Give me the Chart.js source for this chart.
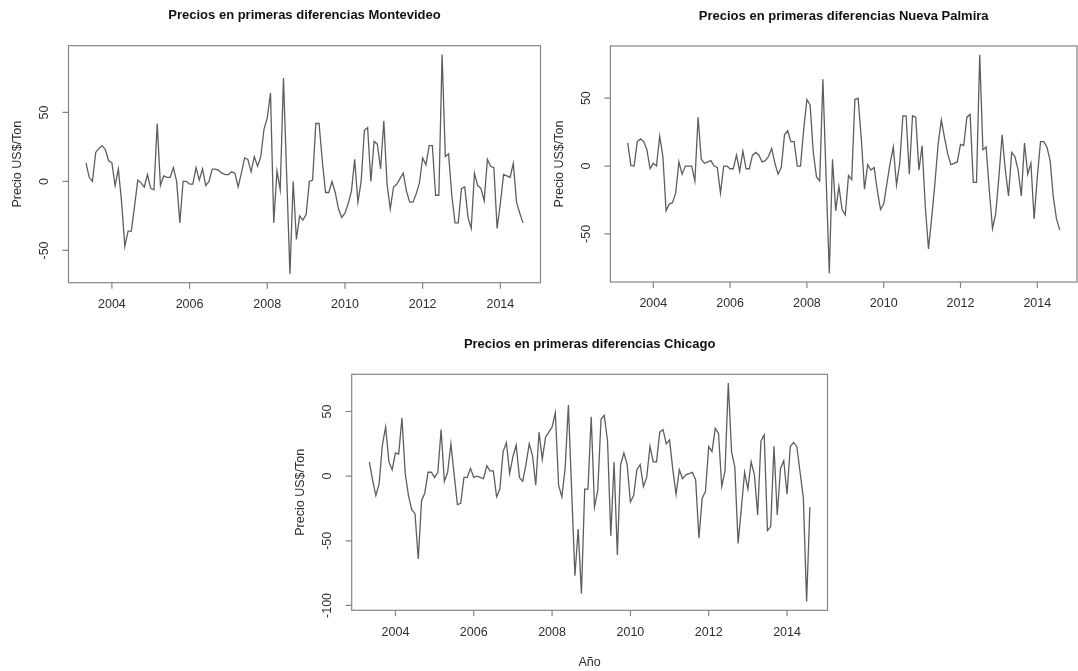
<!DOCTYPE html>
<html lang="es">
<head>
<meta charset="utf-8">
<title>Precios en primeras diferencias</title>
<script src="https://cdn.jsdelivr.net/npm/chart.js@4.4.1/dist/chart.umd.min.js"></script>
<style>
  html, body { margin: 0; padding: 0; background: #ffffff; }
  #sheet { position: relative; width: 1078px; height: 671px; overflow: hidden; background: #ffffff; }
  #sheet canvas { position: absolute; }
</style>
</head>
<body>
<div id="sheet">
  <canvas id="c-mvd"></canvas>
  <canvas id="c-np"></canvas>
  <canvas id="c-chi"></canvas>
</div>
<script>
// Monthly series, first observation May 2003, last August 2014
const startYear = 2003;
const startMonth = 5;

// Price first differences, US$/Ton
const montevideo = [
  13.5, 3, 0, 21, 24, 26, 23, 15, 13.5, -3,
  9, -15, -47, -36, -36, -18, 1, -1, -4, 5,
  -5, -6, 42, -3, 4, 3, 3, 10, 0, -30,
  0, 0, -2, -2, 10, 1, 9, -3, 0, 9,
  9, 8, 6, 5, 5, 7, 6, -4, 6, 17,
  16, 7, 18, 11, 18, 38, 46, 64, -30, 7.5,
  -6, 75, 4, -67, 0, -42, -25, -28, -24, 0,
  1, 42, 42, 15, -8, -8, 0, -8, -20, -26,
  -23, -16, -7, 16, -15, 0, 37, 39, 0, 29,
  27, 9, 44, -2, -20, -4, -2, 2, 6, -7,
  -15, -15, -9, -1, 17, 12, 26, 26, -10, -10,
  92, 18, 20, -10, -30, -30, -5, -4, -26, -34,
  6, -3, -5, -14, 16, 11, 10, -34, -16, 5,
  4, 3, 13, -15, -23, -30
];

const nuevaPalmira = [
  17, 0.5, 0, 18, 20, 18, 12, -2, 2, 0,
  22, 7, -33, -28, -27, -20, 3, -6, 0, 0,
  0, -11, 36, 5, 2, 3, 4, 0, -1, -20,
  0, 0, -2, -2, 8, -4, 11, -2, -2, 8,
  10, 8, 3, 4, 7, 13, 2, -6, -1, 23,
  26, 18, 18, 0, 0, 27, 49, 45, 10, -8,
  -11, 64, -8, -79, 5, -33, -15, -32, -36, -7,
  -10, 49, 50, 20, -17, 1, -3, -1, -18, -32,
  -28, -13, 2, 14, -14, 2, 37, 37, -6, 37,
  36, -3, 15, -30, -61, -38, -13, 16, 34, 21,
  9, 1, 2, 3, 16, 15, 36, 38, -12, -12,
  82, 12, 14, -18, -46, -35, -8, 23, -3, -22,
  10, 7, -3, -22, 17, -6, 2, -39, -8, 18,
  18, 14, 4, -23, -39, -47
];

const chicago = [
  11, -3, -15, -6, 24, 38, 11, 5, 18, 17,
  45, 2, -15, -26, -29, -64, -19, -13, 3, 3,
  -1, 3, 36, -4, 3, 25, 1, -22, -21, -1,
  -1, 6, -1, 0, -1, -2, 8, 4, 4, -16,
  -10, 19, 26, 2, 15, 24, -1, -4, 9, 25,
  16, -7, 34, 13, 30, 34, 38, 49, -7, -16,
  6, 55, -11, -77, -41, -91, -10, -10, 46, -24,
  -11, 44, 47, 27, -46, 11, -61, 9, 18, 9,
  -20, -15, 5, 9, -8, -1, 23, 11, 11, 34,
  36, 25, 28, 5, -14, 5, -2, 1, 2, 3,
  -3, -48, -17, -12, 23, 19, 37, 33, -8, 4,
  72, 19, 7, -52, -25, 3, -10, 11, 1, -30,
  27, 32, -42, -39, 23, -30, 6, 12, -14, 23,
  26, 23, 3, -17, -97, -24
];

// Axis tick labels
const yearTicks = [2004, 2006, 2008, 2010, 2012, 2014];
const portTicks = [-50, 0, 50];
const chicagoTicks = [-100, -50, 0, 50];

// Text
const titles = [
  'Precios en primeras diferencias Montevideo',
  'Precios en primeras diferencias Nueva Palmira',
  'Precios en primeras diferencias Chicago'
];
const yTitle = 'Precio US$/Ton';
const xTitle = 'Año';

// Time of each observation in decimal years (ts-style)
function timeOf(i) {
  return startYear + (startMonth - 1 + i) / 12;
}
function toPoints(values) {
  return values.map((v, i) => ({ x: timeOf(i), y: v }));
}
// Axis limits extended 4% past the data range on both ends
function paddedRange(lo, hi) {
  const d = (hi - lo) * 0.04;
  return { min: lo - d, max: hi + d };
}

const FONT = '"Liberation Sans", Arial, Helvetica, sans-serif';

// Draws the box, outward ticks, rotated y labels and titles around the plot region
const framePlugin = {
  id: 'rFrame',
  afterDraw(chart, args, opts) {
    const ctx = chart.ctx;
    const a = chart.chartArea;
    const xs = chart.scales.x;
    const ys = chart.scales.y;
    ctx.save();
    ctx.strokeStyle = '#858585';
    ctx.lineWidth = 1.2;
    ctx.strokeRect(a.left, a.top, a.right - a.left, a.bottom - a.top);

    ctx.fillStyle = '#2e2e2e';
    ctx.font = '12.5px ' + FONT;
    ctx.textAlign = 'center';
    ctx.textBaseline = 'middle';

    // x axis
    ctx.beginPath();
    opts.xTicks.forEach(v => {
      const px = xs.getPixelForValue(v);
      ctx.moveTo(px, a.bottom);
      ctx.lineTo(px, a.bottom + 6);
    });
    ctx.stroke();
    opts.xTicks.forEach(v => {
      ctx.fillText(String(v), xs.getPixelForValue(v), a.bottom + 22);
    });

    // y axis
    ctx.beginPath();
    opts.yTicks.forEach(v => {
      const py = ys.getPixelForValue(v);
      ctx.moveTo(a.left - 6, py);
      ctx.lineTo(a.left, py);
    });
    ctx.stroke();
    opts.yTicks.forEach(v => {
      ctx.save();
      ctx.translate(a.left - 24, ys.getPixelForValue(v));
      ctx.rotate(-Math.PI / 2);
      ctx.fillText(String(v), 0, 0);
      ctx.restore();
    });

    // axis titles
    ctx.save();
    ctx.translate(a.left - 51, (a.top + a.bottom) / 2);
    ctx.rotate(-Math.PI / 2);
    ctx.fillText(opts.yTitle, 0, 0);
    ctx.restore();
    if (opts.xTitle) {
      ctx.fillText(opts.xTitle, (a.left + a.right) / 2, a.bottom + 52);
    }

    // main title
    ctx.fillStyle = '#111111';
    ctx.font = 'bold 13px ' + FONT;
    ctx.fillText(opts.title, (a.left + a.right) / 2, a.top - 30);
    ctx.restore();
  }
};

// Canvas placement and plot-region box for each panel (page pixels)
const panels = [
  { id: 'c-mvd', values: montevideo, yTicks: portTicks, title: titles[0], xTitle: null,
    canvas: { left: 0, top: 0, width: 560, height: 330 },
    box: { left: 68.5, top: 45.7, right: 540.5, bottom: 282.7 } },
  { id: 'c-np', values: nuevaPalmira, yTicks: portTicks, title: titles[1], xTitle: null,
    canvas: { left: 545, top: 0, width: 533, height: 330 },
    box: { left: 610.4, top: 46, right: 1077, bottom: 282 } },
  { id: 'c-chi', values: chicago, yTicks: chicagoTicks, title: titles[2], xTitle: xTitle,
    canvas: { left: 270, top: 320, width: 590, height: 351 },
    box: { left: 351.7, top: 374.3, right: 827.5, bottom: 610.3 } }
];

panels.forEach(p => {
  const el = document.getElementById(p.id);
  el.width = p.canvas.width;
  el.height = p.canvas.height;
  el.style.left = p.canvas.left + 'px';
  el.style.top = p.canvas.top + 'px';

  const pts = toPoints(p.values);
  const xr = paddedRange(pts[0].x, pts[pts.length - 1].x);
  const yr = paddedRange(Math.min(...p.values), Math.max(...p.values));

  new Chart(el, {
    type: 'line',
    data: {
      datasets: [{
        data: pts,
        borderColor: '#5e5e5e',
        borderWidth: 1.3,
        pointRadius: 0,
        tension: 0,
        fill: false
      }]
    },
    options: {
      responsive: false,
      animation: false,
      devicePixelRatio: 1,
      parsing: false,
      layout: {
        padding: {
          left: p.box.left - p.canvas.left,
          top: p.box.top - p.canvas.top,
          right: p.canvas.left + p.canvas.width - p.box.right,
          bottom: p.canvas.top + p.canvas.height - p.box.bottom
        }
      },
      plugins: {
        legend: { display: false },
        tooltip: { enabled: false },
        rFrame: {
          xTicks: yearTicks,
          yTicks: p.yTicks,
          title: p.title,
          yTitle: yTitle,
          xTitle: p.xTitle
        }
      },
      scales: {
        x: { type: 'linear', display: false, min: xr.min, max: xr.max },
        y: { type: 'linear', display: false, min: yr.min, max: yr.max }
      }
    },
    plugins: [framePlugin]
  });
});
</script>
</body>
</html>
